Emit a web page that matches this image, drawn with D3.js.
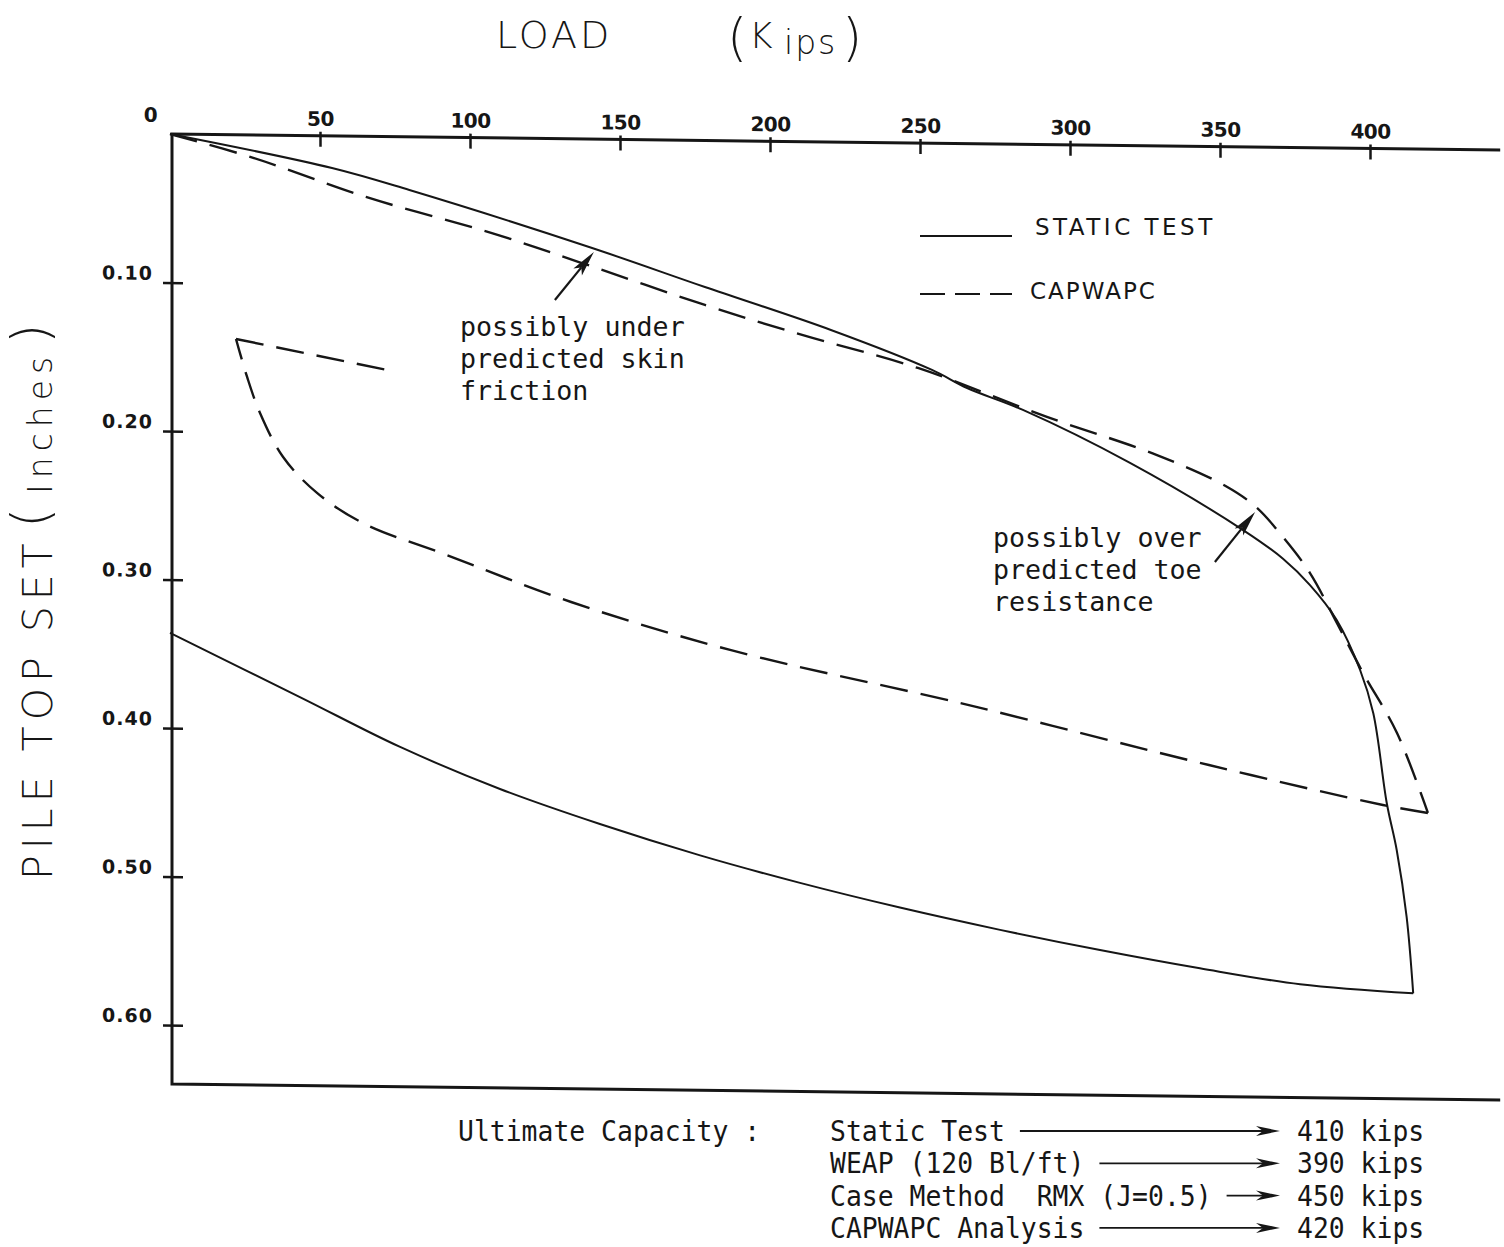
<!DOCTYPE html>
<html>
<head>
<meta charset="utf-8">
<script src="https://cdn.jsdelivr.net/npm/d3@7"></script>
<style>
html, body { margin: 0; padding: 0; background: #fff; }
svg { display: block; }
</style>
</head>
<body>
<svg id="chart" width="1504" height="1247"></svg>
<script>
//// axis ticks
var xTicks = [0, 50, 100, 150, 200, 250, 300, 350, 400];
var yTicks = [0.10, 0.20, 0.30, 0.40, 0.50, 0.60];

//// static load test, loading branch (kips, inches)
var staticLoadKips = [0, 54, 79.8, 139.7, 178.3, 220.3, 254, 265.7, 284.3, 320, 357.7, 371, 380, 388.9, 396.7, 401.1, 405.6, 408.9, 412.2, 414.4];
var staticLoadSet  = [0, 0.0216, 0.0358, 0.0727, 0.0987, 0.1266, 0.1527, 0.1646, 0.1789, 0.2137, 0.2580, 0.2770, 0.2945, 0.3178, 0.3513, 0.3803, 0.4408, 0.4722, 0.5170, 0.5686];
//// static load test, unloading branch
var staticUnloadKips = [414.4, 376.7, 343.3, 310, 276.7, 243.3, 210, 176.7, 143.3, 110, 76.7, 43.3, 0];
var staticUnloadSet  = [0.5686, 0.5634, 0.5535, 0.5420, 0.5292, 0.5150, 0.4992, 0.4815, 0.4612, 0.4384, 0.4109, 0.3781, 0.3360];

//// CAPWAPC, loading branch
var capwapcLoadKips = [0, 28, 65.3, 107.3, 136.3, 178.3, 210.7, 249.3, 292.3, 329, 352, 362, 371, 380, 389, 397.7, 409, 419.3];
var capwapcLoadSet  = [0, 0.0155, 0.0408, 0.0641, 0.0829, 0.1108, 0.1302, 0.1515, 0.1834, 0.2082, 0.2286, 0.2424, 0.2624, 0.2864, 0.3199, 0.3533, 0.3934, 0.4470];
//// CAPWAPC, unloading branch
var capwapcUnloadKips = [419.3, 404.3, 346.3, 266.3, 186.7, 133.7, 92.3, 64.3, 49, 37.7, 30, 25.7, 22];
var capwapcUnloadSet  = [0.4470, 0.4420, 0.4165, 0.3781, 0.3429, 0.3119, 0.2813, 0.2604, 0.2405, 0.2166, 0.1871, 0.1630, 0.1375];
var capwapcTailKips = [22, 74];
var capwapcTailSet  = [0.1375, 0.1578];

//// ultimate capacity table
var capacityMethods = ["Static Test", "WEAP (120 Bl/ft)", "Case Method  RMX (J=0.5)", "CAPWAPC Analysis"];
var capacityKips = [410, 390, 450, 420];

var ink = "#161616";
var svg = d3.select("#chart");

// the scan is slightly sheared, the plot follows it
var plot = svg.append("g").attr("transform", "translate(170,134) skewY(0.69)");

var x = d3.scaleLinear().domain([0, 400]).range([0, 1200]);
var y = d3.scaleLinear().domain([0, 0.6]).range([0, 891]);

////frame
plot.append("path")
    .attr("d", "M" + x(443.4) + "," + y(0) + "H2V" + y(0.6397) + "H" + x(443.4))
    .attr("fill", "none").attr("stroke", ink).attr("stroke-width", 3);

////x axis on top
var xAxis = plot.append("g")
    .call(d3.axisTop(x).tickValues(xTicks).tickSize(0).tickPadding(10));
xAxis.select(".domain").remove();
xAxis.selectAll(".tick line")
    .attr("y1", -4).attr("y2", 11)
    .attr("stroke", ink).attr("stroke-width", 2.5)
    .style("display", function(d) { return d == 0 ? "none" : null; });
xAxis.selectAll(".tick text")
    .attr("x", function(d) { return d == 0 ? -20 : 0; })
    .attr("y", function(d) { return d == 0 ? -12 : -10; })
    .attr("fill", ink)
    .style("font-family", "DejaVu Sans")
    .style("font-weight", "bold")
    .style("font-size", "20px")
    .style("letter-spacing", "-0.5px");

////y axis on the left
var yAxis = plot.append("g").attr("transform", "translate(2,0)")
    .call(d3.axisLeft(y).tickValues(yTicks).tickFormat(d3.format(".2f")).tickSize(0).tickPadding(19));
yAxis.select(".domain").remove();
yAxis.selectAll(".tick line")
    .attr("x1", -9).attr("x2", 11)
    .attr("stroke", ink).attr("stroke-width", 2.5);
yAxis.selectAll(".tick text")
    .attr("dy", "-0.15em")
    .attr("fill", ink)
    .style("font-family", "DejaVu Sans")
    .style("font-weight", "bold")
    .style("font-size", "19px")
    .style("letter-spacing", "1px");

////curves
var line = d3.line()
    .x(function(d) { return x(d[0]); })
    .y(function(d) { return y(d[1]); })
    .curve(d3.curveCatmullRom.alpha(0.5));

var straight = d3.line()
    .x(function(d) { return x(d[0]); })
    .y(function(d) { return y(d[1]); });

function drawCurve(data, dashed, gen) {
    plot.append("path")
        .datum(data)
        .attr("d", gen || line)
        .attr("fill", "none")
        .attr("stroke", ink)
        .attr("stroke-width", dashed ? 2.4 : 2)
        .attr("stroke-dasharray", dashed ? "28,13" : null);
}

drawCurve(d3.zip(staticLoadKips, staticLoadSet), false);
drawCurve(d3.zip(staticUnloadKips, staticUnloadSet), false);
drawCurve(d3.zip(capwapcLoadKips, capwapcLoadSet), true);
drawCurve(d3.zip(capwapcUnloadKips, capwapcUnloadSet), true);
drawCurve(d3.zip(capwapcTailKips, capwapcTailSet), true, straight);

////annotation arrows (data units)
var arrowTails = [[128.3, 0.1087], [348.3, 0.2797]];
var arrowTips  = [[141.3, 0.0760], [361.7, 0.2457]];

arrowTails.forEach(function(t, i) {
    var p = arrowTips[i];
    var x1 = x(t[0]), y1 = y(t[1]), x2 = x(p[0]), y2 = y(p[1]);
    var a = Math.atan2(y2 - y1, x2 - x1);
    var len = 26, w = 5.5;
    var bx = x2 - len * Math.cos(a), by = y2 - len * Math.sin(a);
    var nx = x2 - (len - 6) * Math.cos(a), ny = y2 - (len - 6) * Math.sin(a);
    plot.append("line")
        .attr("x1", x1).attr("y1", y1).attr("x2", nx).attr("y2", ny)
        .attr("stroke", ink).attr("stroke-width", 2.2);
    plot.append("path")
        .attr("d", "M" + x2 + "," + y2 +
            "L" + (bx - w * Math.sin(a)) + "," + (by + w * Math.cos(a)) +
            "L" + nx + "," + ny +
            "L" + (bx + w * Math.sin(a)) + "," + (by - w * Math.cos(a)) + "Z")
        .attr("fill", ink);
});

////annotation text
var mono = "DejaVu Sans Mono";
var notes = [
    { x: 460, y: 336, lines: ["possibly under", "predicted skin", "friction"] },
    { x: 993, y: 547, lines: ["possibly over", "predicted toe", "resistance"] }
];
notes.forEach(function(n) {
    n.lines.forEach(function(s, i) {
        svg.append("text")
            .attr("x", n.x).attr("y", n.y + i * 32)
            .attr("textLength", s.length * 16.05)
            .attr("lengthAdjust", "spacingAndGlyphs")
            .attr("fill", ink)
            .style("font-family", mono)
            .style("font-size", "27px")
            .text(s);
    });
});

////legend
svg.append("line").attr("x1", 920).attr("x2", 1012).attr("y1", 236).attr("y2", 236)
    .attr("stroke", ink).attr("stroke-width", 2);
svg.append("line").attr("x1", 920).attr("x2", 1012).attr("y1", 294).attr("y2", 294)
    .attr("stroke", ink).attr("stroke-width", 2).attr("stroke-dasharray", "25,10");
svg.append("text").attr("x", 1035).attr("y", 235).text("STATIC TEST")
    .attr("fill", ink).style("font-family", "DejaVu Sans").style("font-size", "23px")
    .style("letter-spacing", "3.5px");
svg.append("text").attr("x", 1030).attr("y", 299).text("CAPWAPC")
    .attr("fill", ink).style("font-family", "DejaVu Sans").style("font-size", "23px")
    .style("letter-spacing", "2px");

////title
var hand = svg.append("g").attr("fill", ink).style("font-family", "DejaVu Sans").style("font-weight", "200");
hand.append("text").attr("x", 496).attr("y", 48).style("font-size", "38px").style("letter-spacing", "3px").text("LOAD");
hand.append("text").attr("x", 727).attr("y", 55).style("font-size", "52px").text("(");
hand.append("text").attr("x", 749).attr("y", 48).style("font-size", "36px").text("K");
hand.append("text").attr("x", 784).attr("y", 54).style("font-size", "33px").style("letter-spacing", "2px").text("ips");
hand.append("text").attr("x", 842).attr("y", 55).style("font-size", "52px").text(")");

////y axis title
var yt = hand.append("g").attr("transform", "translate(52,880) rotate(-90)");
yt.append("text").attr("x", 0).attr("y", 0)
    .style("font-size", "41px").style("letter-spacing", "6px").text("PILE TOP SET");
yt.append("text").attr("x", 352).attr("y", -4).style("font-size", "52px").text("(");
yt.append("text").attr("x", 386).attr("y", 0)
    .style("font-size", "33px").style("letter-spacing", "6px").text("Inches");
yt.append("text").attr("x", 536).attr("y", -4).style("font-size", "52px").text(")");

////ultimate capacity block
var cw = 15.9;
function typed(s, tx, ty) {
    return svg.append("text")
        .attr("x", tx).attr("y", ty)
        .attr("textLength", s.length * cw)
        .attr("lengthAdjust", "spacingAndGlyphs")
        .attr("fill", ink)
        .style("white-space", "pre")
        .style("font-family", mono)
        .style("font-size", "27.5px")
        .text(s);
}

typed("Ultimate Capacity :", 458, 1141);

capacityMethods.forEach(function(m, i) {
    var by = 1141 + i * 32.3;
    typed(m, 830, by);
    var x0 = 830 + m.length * cw + 15, x1 = 1280, ay = by - 10;
    svg.append("line").attr("x1", x0).attr("x2", x1 - 14).attr("y1", ay).attr("y2", ay)
        .attr("stroke", ink).attr("stroke-width", 1.8);
    svg.append("path")
        .attr("d", "M" + x1 + "," + ay + "L" + (x1 - 24) + "," + (ay - 5) + "L" + (x1 - 17) + "," + ay +
            "L" + (x1 - 24) + "," + (ay + 5) + "Z")
        .attr("fill", ink);
    typed(capacityKips[i] + " kips", 1297, by);
});
</script>
</body>
</html>
